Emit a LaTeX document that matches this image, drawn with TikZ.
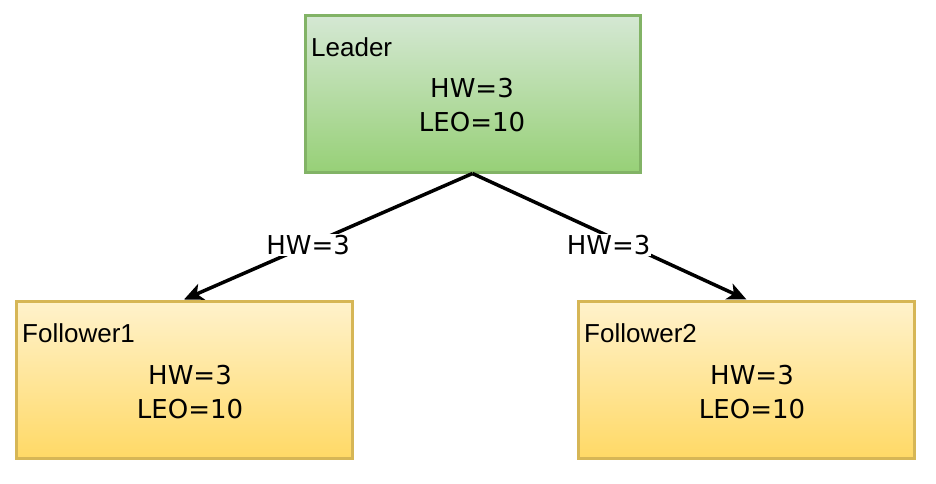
\documentclass[tikz,border=0pt]{standalone}
\usepackage{fontspec}
\setmainfont{Liberation Sans}
\newfontfamily\valfont{DejaVu Sans}
\usetikzlibrary{arrows.meta}
\definecolor{gborder}{HTML}{82B366}
\definecolor{gtop}{HTML}{D5E8D4}
\definecolor{gbot}{HTML}{97D077}
\definecolor{yborder}{HTML}{D6B656}
\definecolor{ytop}{HTML}{FFF2CC}
\definecolor{ybot}{HTML}{FFD966}
\tikzset{
  leaderbox/.style={draw=gborder, line width=3pt, top color=gtop, bottom color=gbot, minimum width=335pt, minimum height=157pt, inner sep=0pt},
  followerbox/.style={draw=yborder, line width=3pt, top color=ytop, bottom color=ybot, minimum width=336pt, minimum height=157pt, inner sep=0pt},
  titletext/.style={font=\fontsize{26}{30}\selectfont, anchor=west, inner sep=0pt},
  valtext/.style={font=\valfont\fontsize{26}{34}\selectfont, align=center, inner sep=0pt},
  edgetext/.style={font=\valfont\fontsize{26}{30}\selectfont, fill=white, inner sep=1pt},
  conn/.style={line width=3.5pt, -{Stealth[length=19pt,width=17pt,inset=5pt]}}
}
\begin{document}
\begin{tikzpicture}[x=1pt,y=-1pt]
\useasboundingbox (0,0) rectangle (936,483);
\node[leaderbox] (leader) at (472.5,93.5) {};
\node[followerbox] (f1) at (184,379.5) {};
\node[followerbox] (f2) at (746.5,379.5) {};
\node[titletext] (lt) at (311,47) {Leader};
\node[valtext] (lv) at (472,105) {HW=3\\LEO=10};
\node[titletext] (f1t) at (22,333) {Follower1};
\node[valtext] (f1v) at (190,392) {HW=3\\LEO=10};
\node[titletext] (f2t) at (584,333) {Follower2};
\node[valtext] (f2v) at (752,392) {HW=3\\LEO=10};
\draw[conn] (leader.south) -- node[edgetext, pos=0.57] (e1) {HW=3} (f1.north);
\draw[conn] (leader.south) -- node[edgetext, pos=0.57, xshift=-20pt] (e2) {HW=3} (f2.north);
\end{tikzpicture}
\end{document}
